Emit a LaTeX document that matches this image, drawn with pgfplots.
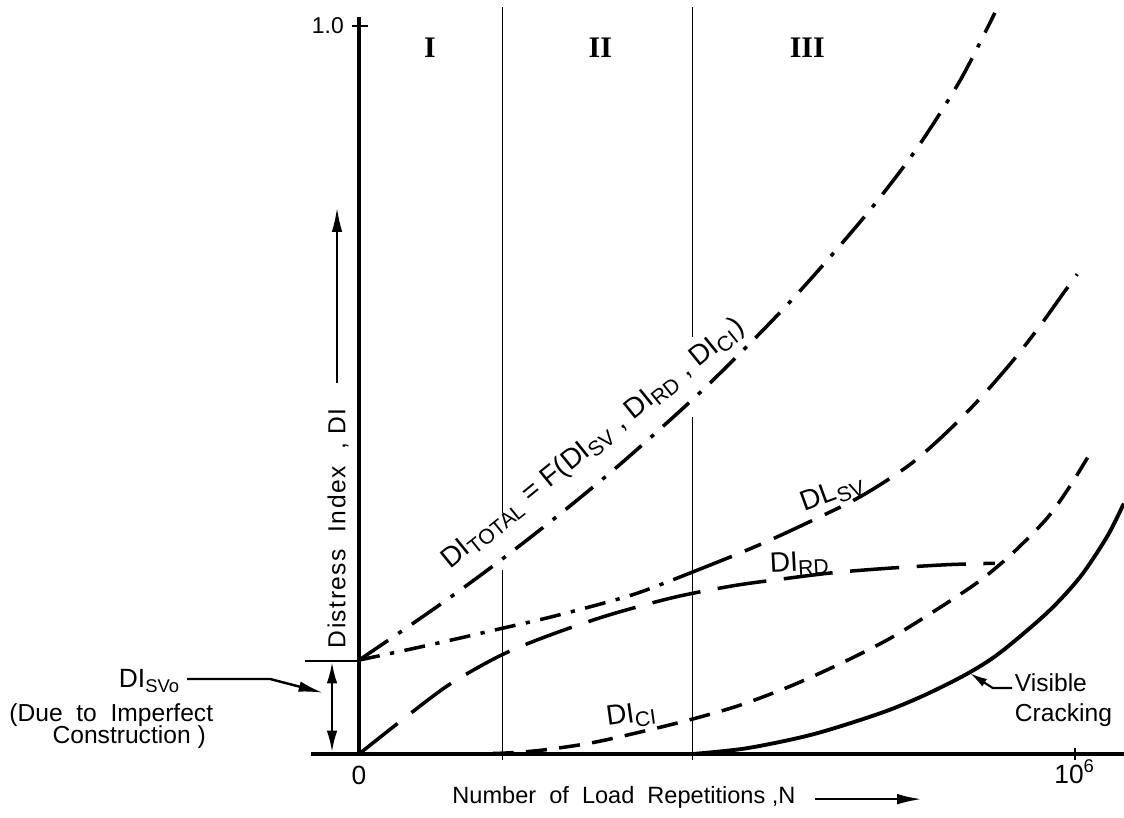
\documentclass[border=0pt]{standalone}
\usepackage{pgfplots}
\pgfplotsset{compat=1.18}
\usepackage{fontspec}
\setmainfont{Liberation Sans}
\newfontfamily\romfont{Liberation Serif}
\newfontfamily\spacedfont[LetterSpace=6]{Liberation Sans}
\usetikzlibrary{arrows.meta}
\begin{document}
\begin{tikzpicture}
\begin{axis}[scale only axis, width=11.24cm, height=8.18cm,
  xmin=-0.5014, xmax=1.0684, ymin=-0.0879, ymax=1.0357,
  hide axis, clip=false]
\coordinate (bl) at (rel axis cs:0,0);
\coordinate (tr) at (rel axis cs:1,1);
% axis lines and ticks
\draw[line width=0.9pt] (axis cs:-0.067,0) -- (axis cs:1.0684,0);
\draw[line width=0.9pt] (axis cs:0,0) -- (axis cs:0,1.012);
\draw[line width=0.8pt] (axis cs:-0.010,1) -- (axis cs:0.012,1);
\draw[line width=0.8pt] (axis cs:1,-0.008) -- (axis cs:1,0.008);
% region lines
\draw[line width=0.4pt] (axis cs:0.2,-0.008) -- (axis cs:0.2,0.253);
\draw[line width=0.4pt] (axis cs:0.2,0.331) -- (axis cs:0.2,1.026);
\draw[line width=0.4pt] (axis cs:0.466,-0.008) -- (axis cs:0.466,0.463);
\draw[line width=0.4pt] (axis cs:0.466,0.573) -- (axis cs:0.466,1.026);
% tick labels
\node[anchor=east, font=\fontsize{6.5}{8}\selectfont] at (axis cs:-0.004,1.0) {1.0};
\node[font=\fontsize{7.5}{9}\selectfont] at (axis cs:0,-0.029) {0};
\node[font=\fontsize{7.5}{9}\selectfont] at (axis cs:1.0,-0.024) {10\textsuperscript{6}};
% region labels
\node[font=\romfont\bfseries\fontsize{8.5}{10}\selectfont] at (axis cs:0.099,0.970) {I};
\node[font=\romfont\bfseries\fontsize{8.5}{10}\selectfont] at (axis cs:0.337,0.970) {II};
\node[font=\romfont\bfseries\fontsize{8.5}{10}\selectfont] at (axis cs:0.626,0.970) {III};
% axis titles
\node[rotate=90, font=\spacedfont\fontsize{7}{9}\selectfont] at (axis cs:-0.0293,0.310) {Distress\ \ Index\ \ ,\ DI};
\draw[line width=0.7pt, -{Latex[length=7pt,width=3pt]}] (axis cs:-0.0307,0.510) -- (axis cs:-0.0307,0.751);
\node[font=\fontsize{6.7}{9}\selectfont] at (axis cs:0.370,-0.059) {Number\ \ of\ \ Load\ \ Repetitions\ ,N};
\draw[line width=0.7pt, -{Latex[length=7pt,width=3pt]}] (axis cs:0.637,-0.062) -- (axis cs:0.786,-0.062);
% DI_SVo annotation
\draw[line width=0.5pt] (axis cs:-0.0754,0.128) -- (axis cs:0,0.128);
\draw[line width=0.6pt, {Latex[length=6pt,width=3pt]}-{Latex[length=6pt,width=3pt]}] (axis cs:-0.0377,0.003) -- (axis cs:-0.0377,0.126);
\node[font=\fontsize{7.5}{9}\selectfont] at (axis cs:-0.292,0.100) {DI\textsubscript{SVo}};
\node[font=\fontsize{7}{9}\selectfont] at (axis cs:-0.346,0.054) {(Due\ \ to\ \ Imperfect};
\node[font=\fontsize{7}{9}\selectfont] at (axis cs:-0.321,0.023) {Construction )};
\draw[line width=0.7pt, -{Latex[length=7pt,width=3pt]}] (axis cs:-0.240,0.103) -- (axis cs:-0.124,0.103) -- (axis cs:-0.050,0.084);
% curves
\addplot[black, line width=1pt, smooth, dash pattern=on 10pt off 3.5pt on 1.2pt off 3.5pt] coordinates {
(0,0.129) (0.06,0.169) (0.12,0.210) (0.18,0.253) (0.24,0.298) (0.30,0.345) (0.36,0.394) (0.42,0.446) (0.48,0.500) (0.54,0.558) (0.60,0.619) (0.66,0.685) (0.72,0.755) (0.78,0.833) (0.84,0.926) (0.888,1.018)};
\addplot[black, line width=1pt, smooth, dash pattern=on 6pt off 3pt on 1.2pt off 3pt] coordinates {
(0,0.129) (0.067,0.143) (0.131,0.157) (0.197,0.172) (0.263,0.187) (0.337,0.206) (0.392,0.222) (0.466,0.250)};
\addplot[black, line width=1pt, smooth, dash pattern=on 12pt off 4pt on 5pt off 4pt] coordinates {
(0.466,0.250) (0.532,0.276) (0.588,0.300) (0.682,0.344) (0.728,0.370) (0.774,0.401) (0.821,0.442) (0.867,0.488) (0.913,0.540) (0.951,0.588) (0.983,0.632) (1.003,0.659)};
\addplot[black, line width=1pt, smooth, dash pattern=on 14pt off 5pt] coordinates {
(0,0) (0.067,0.052) (0.127,0.096) (0.197,0.135) (0.263,0.162) (0.346,0.190) (0.439,0.215) (0.522,0.231) (0.588,0.240) (0.662,0.249) (0.737,0.255) (0.821,0.260) (0.888,0.262)};
\addplot[black, line width=1pt, smooth, dash pattern=on 6pt off 3.5pt] coordinates {
(0,0) (0.127,0) (0.197,0.001) (0.253,0.005) (0.323,0.015) (0.392,0.030) (0.462,0.047) (0.532,0.067) (0.602,0.093) (0.672,0.124) (0.742,0.159) (0.811,0.201) (0.867,0.238) (0.913,0.276) (0.961,0.324) (0.993,0.368) (1.021,0.413)};
\addplot[black, line width=1.1pt, smooth] coordinates {
(0.466,0) (0.542,0.008) (0.634,0.027) (0.728,0.056) (0.788,0.080) (0.849,0.110) (0.895,0.139) (0.961,0.194) (1.007,0.243) (1.045,0.299) (1.068,0.344)};
% curve labels
\node[rotate=39, font=\fontsize{8}{10}\selectfont] at (axis cs:0.327,0.426) {DI\textsubscript{TOTAL} = F(DI\textsubscript{SV} , DI\textsubscript{RD} , DI\textsubscript{CI})};
\node[rotate=20, font=\fontsize{8}{10}\selectfont] at (axis cs:0.662,0.358) {DL\textsubscript{SV}};
\node[rotate=3, font=\fontsize{8}{10}\selectfont] at (axis cs:0.616,0.262) {DI\textsubscript{RD}};
\node[rotate=8, font=\fontsize{8}{10}\selectfont] at (axis cs:0.381,0.053) {DI\textsubscript{CI}};
\node[anchor=west, align=left, inner sep=0pt, font=\fontsize{7}{8.5}\selectfont] at (axis cs:0.915,0.074) {Visible\\Cracking};
\draw[line width=0.6pt, -{Latex[length=5pt,width=2.5pt]}] (axis cs:0.912,0.0907) -- (axis cs:0.885,0.0907) -- (axis cs:0.853,0.111);
\end{axis}
\pgfresetboundingbox
\path[use as bounding box] (bl) rectangle (tr);
\end{tikzpicture}
\end{document}
